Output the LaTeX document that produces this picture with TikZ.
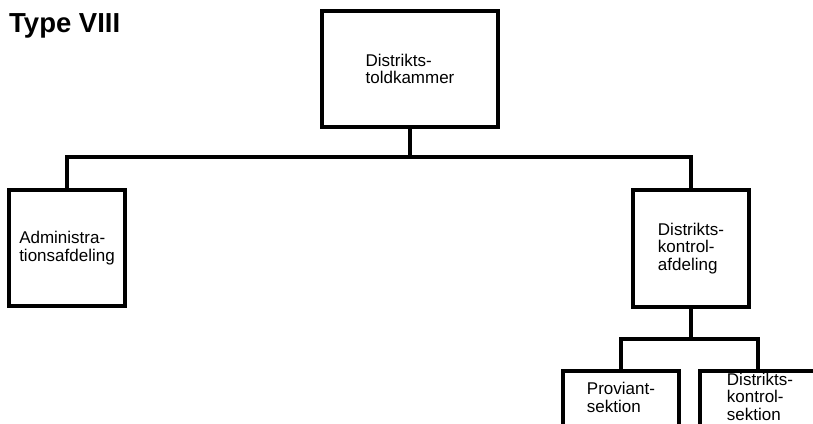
\documentclass[tikz,border=0pt]{standalone}
\usepackage{fontspec}
\setmainfont{Liberation Sans}
\begin{document}
\begin{tikzpicture}[x=1pt,y=-1pt,
  lbl/.style={inner sep=0pt,font=\fontsize{17}{17.5}\selectfont,align=left},
  box/.style={draw=black,line width=3.4pt,fill=white,rectangle,inner sep=0pt,
    font=\fontsize{17}{17.5}\selectfont,align=left,minimum width=#1},
  box/.default=116pt,
  conn/.style={line width=3.4pt,line cap=rect}]
\useasboundingbox (0,0) rectangle (813,423);
\begin{scope}
\clip (0,0) rectangle (813,423);
\node[anchor=north west,inner sep=0pt,font=\fontsize{27.5}{30}\selectfont\bfseries] (title) at (9,13) {Type VIII};
\node[box=176pt,minimum height=116pt] (top) at (410,69) {Distrikts-\\toldkammer};
\node[box,minimum height=116pt] (adm) at (67,248) {Administra-\\tionsafdeling};
\node[box,minimum height=117pt] (dka) at (691,248.5) {Distrikts-\\kontrol-\\afdeling};
\node[box,minimum height=100pt] (prov) at (621,421) {};
\node[box,minimum height=100pt] (dks) at (758,421) {};
\node[lbl] (provt) at (621,397.5) {Proviant-\\sektion};
\node[lbl] (dkst) at (760,396.5) {Distrikts-\\kontrol-\\sektion};
\coordinate (j1) at (410,157);
\coordinate (j2) at (691,339);
\draw[conn] (top.south) -- (j1);
\draw[conn] (adm.north) |- (j1) -| (dka.north);
\draw[conn] (dka.south) -- (j2);
\draw[conn] (prov.north) |- (j2) -| (dks.north);
\end{scope}
\end{tikzpicture}
\end{document}
